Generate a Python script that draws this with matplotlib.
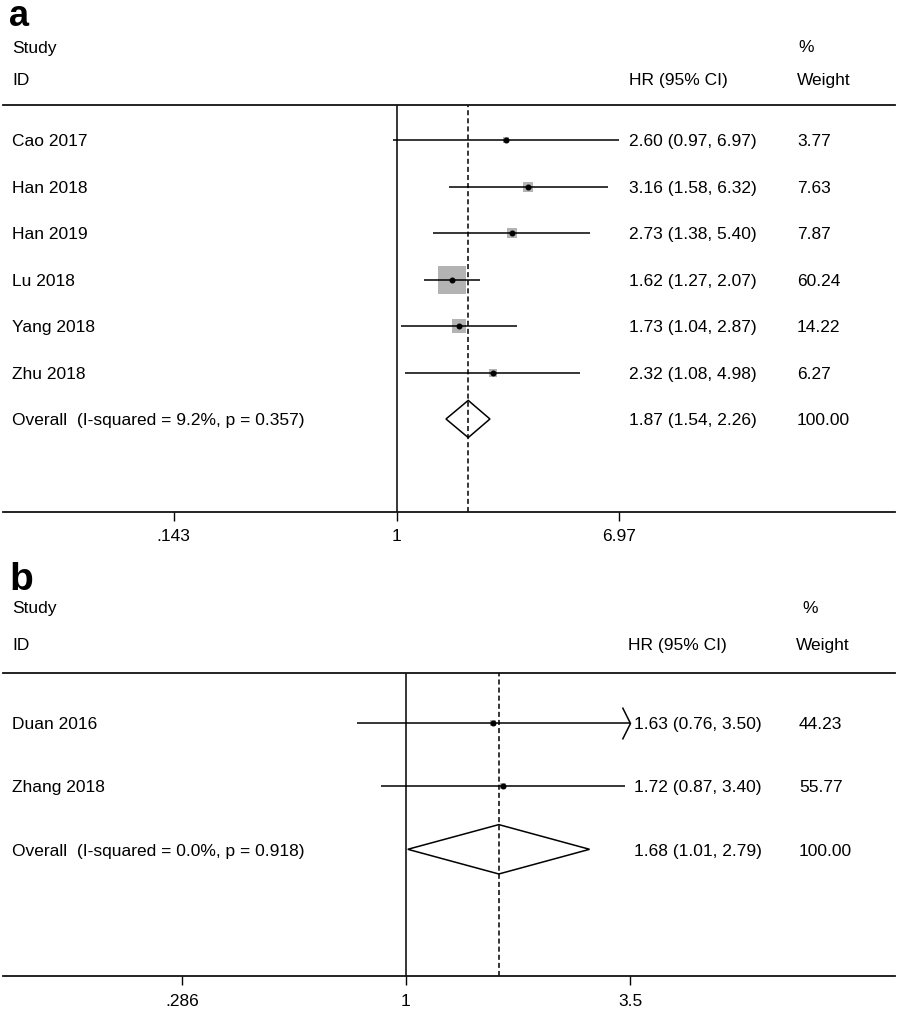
import matplotlib
matplotlib.use('Agg')
import matplotlib.pyplot as plt
import numpy as np
from matplotlib import font_manager
from matplotlib.path import Path
from matplotlib.patches import Polygon
from matplotlib.ticker import NullLocator
import matplotlib.transforms as mtransforms

# ---------------- data ----------------
studies_a = ['Cao 2017', 'Han 2018', 'Han 2019', 'Lu 2018', 'Yang 2018', 'Zhu 2018']
hr_a = [2.60, 3.16, 2.73, 1.62, 1.73, 2.32]
lo_a = [0.97, 1.58, 1.38, 1.27, 1.04, 1.08]
hi_a = [6.97, 6.32, 5.40, 2.07, 2.87, 4.98]
weight_a = [3.77, 7.63, 7.87, 60.24, 14.22, 6.27]
arrow_a = [False, False, False, False, False, False]
overall_a = [1.87, 1.54, 2.26]
overall_label_a = 'Overall  (I-squared = 9.2%, p = 0.357)'
ticks_a = [0.143, 1, 6.97]
ticklabels_a = ['.143', '1', '6.97']

studies_b = ['Duan 2016', 'Zhang 2018']
hr_b = [1.63, 1.72]
lo_b = [0.76, 0.87]
hi_b = [3.50, 3.40]
weight_b = [44.23, 55.77]
arrow_b = [True, False]
overall_b = [1.68, 1.01, 2.79]
overall_label_b = 'Overall  (I-squared = 0.0%, p = 0.918)'
ticks_b = [0.286, 1, 3.5]
ticklabels_b = ['.286', '1', '3.5']

# ---------------- setup ----------------
W, H = 898, 1011
fig = plt.figure(figsize=(W / 100, H / 100), dpi=100)
fig.patch.set_facecolor('white')

names = {f.name for f in font_manager.fontManager.ttflist}
MAIN = 'Liberation Sans' if 'Liberation Sans' in names else 'DejaVu Sans'
NARROW = 'Liberation Sans Narrow' if 'Liberation Sans Narrow' in names else MAIN
NARROW_SIZE = 13.5 if NARROW != MAIN else 12.5
FS = 12.5
plt.rcParams['font.family'] = [MAIN, 'DejaVu Sans']


def fx(px):
    return px / W


def fy(py):
    return 1 - py / H


chevron = Path([(-0.5, 1.0), (0.0, 0.0), (-0.5, -1.0)],
               [Path.MOVETO, Path.LINETO, Path.LINETO])


def panel(letter, letter_base, letter_size, head_base1, head_base2, hr_x, pct_x, w_x,
          whead_x, hrhead_x, top_px, bot_px, row0_px, step_px, cpx, spx, box_k, diam_h,
          studies, hr, lo, hi, wt, arrows, overall, overall_label, ticks, ticklabels,
          tick_pad):
    L, R = 3, 895
    ax = fig.add_axes([fx(L), fy(bot_px), fx(R) - fx(L), fy(top_px) - fy(bot_px)])
    ax.set_xscale('log')
    ax.set_xlim(np.exp((L - cpx) / spx), np.exp((R - cpx) / spx))
    ax.set_ylim((bot_px - row0_px) / step_px, (top_px - row0_px) / step_px)
    ax.set_facecolor('none')
    for s in ['left', 'right']:
        ax.spines[s].set_visible(False)
    for s in ['top', 'bottom']:
        ax.spines[s].set_linewidth(1.3)
        ax.spines[s].set_color('#111111')
    ax.set_yticks([])
    ax.set_xticks(ticks)
    ax.set_xticklabels(ticklabels, fontfamily=NARROW, fontsize=NARROW_SIZE)
    ax.xaxis.set_minor_locator(NullLocator())
    ax.tick_params(axis='x', which='major', direction='out', length=6.5, width=1.0,
                   pad=tick_pad, top=False, colors='black')

    ax.axvline(1, color='black', lw=1.1, zorder=1)
    ax.axvline(overall[0], color='black', lw=1.1, ls=(0, (3.3, 2.0)), zorder=1)

    n = len(studies)
    for i in range(n):
        ax.scatter([hr[i]], [i], marker='s', s=(box_k * np.sqrt(wt[i]) * 0.72) ** 2,
                   color='#b3b3b3', linewidths=0, zorder=2)
        ax.plot([lo[i], hi[i]], [i, i], color='black', lw=1.1, zorder=3,
                solid_capstyle='butt')
        ax.plot([hr[i]], [i], marker='o', ms=3.3, color='black', zorder=4)
        if arrows[i]:
            ax.plot([hi[i]], [i], marker=chevron, ms=23, mfc='none', mec='black',
                    mew=1.1, zorder=4)

    est, olo, ohi = overall
    diamond = Polygon([(olo, n), (est, n - diam_h), (ohi, n), (est, n + diam_h)],
                      closed=True, facecolor='none', edgecolor='black', lw=1.1, zorder=3)
    ax.add_patch(diamond)

    trans = mtransforms.blended_transform_factory(fig.transFigure, ax.transData)
    trans = trans + mtransforms.ScaledTranslation(0, -4.5 / 72, fig.dpi_scale_trans)
    labels = list(studies) + [overall_label]
    hrtxt = ['%.2f (%.2f, %.2f)' % (hr[i], lo[i], hi[i]) for i in range(n)]
    hrtxt.append('%.2f (%.2f, %.2f)' % (est, olo, ohi))
    wtxt = ['%.2f' % w for w in wt] + ['%.2f' % 100.0]
    for i in range(n + 1):
        ax.text(fx(12), i, labels[i], transform=trans, fontsize=FS, va='baseline',
                ha='left', clip_on=False)
        ax.text(fx(hr_x), i, hrtxt[i], transform=trans, fontsize=FS, va='baseline',
                ha='left', clip_on=False)
        ax.text(fx(w_x), i, wtxt[i], transform=trans, fontsize=FS, va='baseline',
                ha='left', clip_on=False)

    # headers
    fig.text(fx(9), fy(letter_base), letter, fontsize=letter_size, fontweight='bold',
             va='baseline', ha='left')
    fig.text(fx(12), fy(head_base1), 'Study', fontsize=FS, va='baseline')
    fig.text(fx(12), fy(head_base2), 'ID', fontsize=FS, va='baseline')
    fig.text(fx(pct_x), fy(head_base1), '%', fontsize=FS, va='baseline')
    fig.text(fx(whead_x), fy(head_base2), 'Weight', fontsize=FS, va='baseline')
    fig.text(fx(hrhead_x), fy(head_base2), 'HR (95% CI)', fontsize=FS, va='baseline')
    return ax


panel('a', 26.5, 26, 52.5, 85, 629, 798, 797, 797, 629,
      105, 512, 140, 46.5, 396.5, 114.6, 3.52, 0.4,
      studies_a, hr_a, lo_a, hi_a, weight_a, arrow_a, overall_a, overall_label_a,
      ticks_a, ticklabels_a, 5.5)

panel('b', 590, 28, 613, 650, 634, 802, 799, 796, 628,
      673, 976, 722.7, 63.3, 406, 178.9, 0.86, 0.39,
      studies_b, hr_b, lo_b, hi_b, weight_b, arrow_b, overall_b, overall_label_b,
      ticks_b, ticklabels_b, 6.5)

fig.savefig('out.png', dpi=100, facecolor='white')
